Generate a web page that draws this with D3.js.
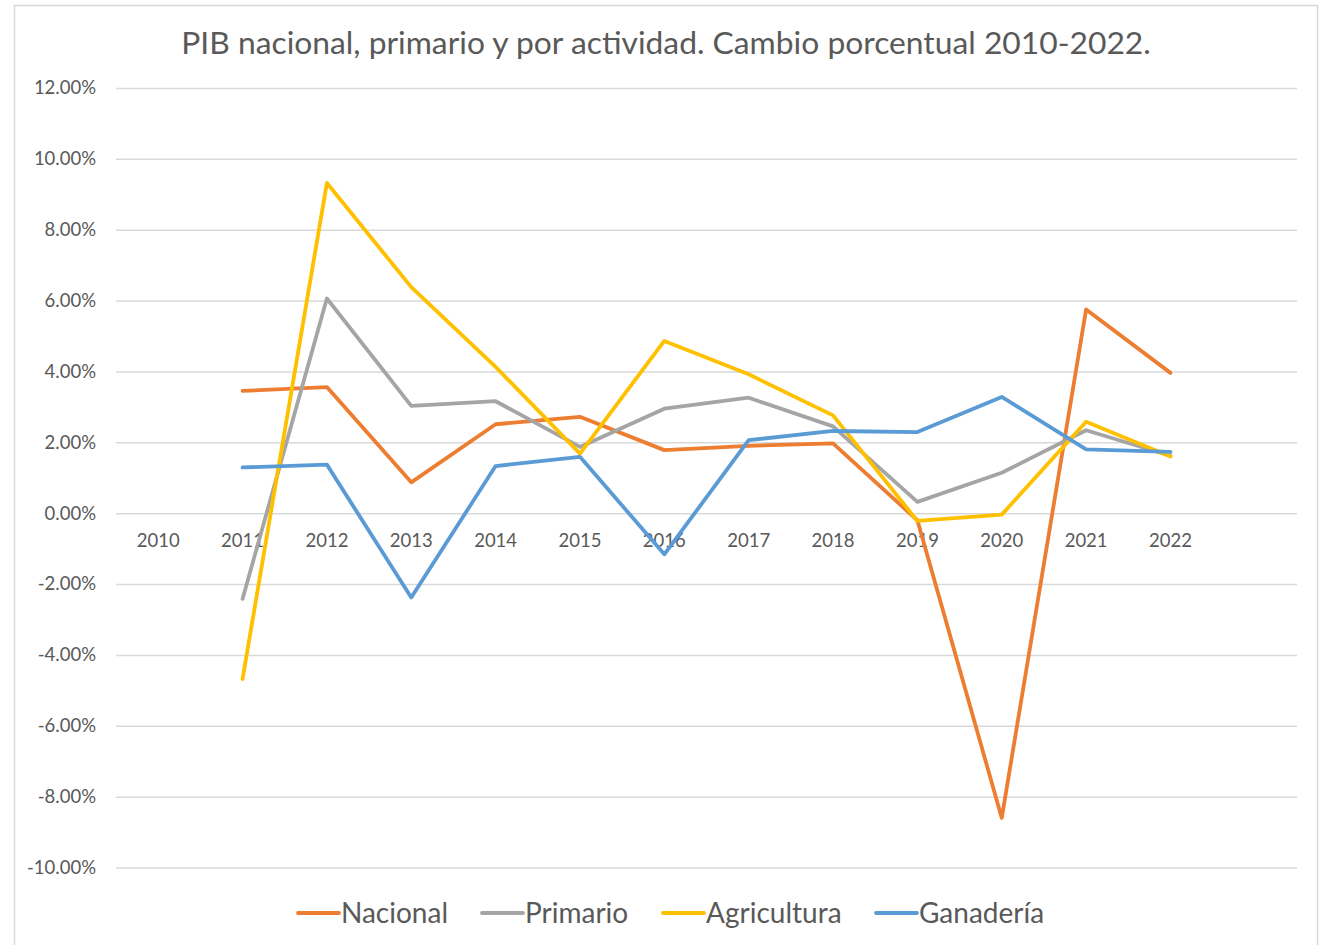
<!DOCTYPE html>
<html>
<head>
<meta charset="utf-8">
<script src="https://cdn.jsdelivr.net/npm/d3@7"></script>
<style>
  html, body { margin: 0; padding: 0; background: #fff; }
  svg { display: block; font-family: Lato, "Open Sans", sans-serif; }
</style>
</head>
<body>
<svg id="chart" width="1324" height="945"></svg>
<script>
const title = "PIB nacional, primario y por actividad. Cambio porcentual 2010-2022.";
const years = ["2010","2011","2012","2013","2014","2015","2016","2017","2018","2019","2020","2021","2022"];
const yTicks = [-10, -8, -6, -4, -2, 0, 2, 4, 6, 8, 10, 12];
const seriesNames = ["Nacional", "Primario", "Agricultura", "Ganadería"];
const seriesColors = ["#ED7D31", "#A5A5A5", "#FFC000", "#5B9BD5"];
const nacional    = [null, 3.45, 3.56, 0.87, 2.51, 2.72, 1.78, 1.90, 1.97, -0.20, -8.60, 5.75, 3.96];
const primario    = [null, -2.42, 6.06, 3.03, 3.16, 1.87, 2.95, 3.26, 2.45, 0.32, 1.14, 2.34, 1.62];
const agricultura = [null, -4.68, 9.32, 6.38, 4.13, 1.68, 4.86, 3.92, 2.76, -0.22, -0.04, 2.58, 1.60];
const ganaderia   = [null, 1.29, 1.37, -2.38, 1.33, 1.59, -1.16, 2.06, 2.32, 2.29, 3.28, 1.80, 1.73];
const seriesValues = [nacional, primario, agricultura, ganaderia];

const svg = d3.select("#chart");
const textColor = "#595959";
const fmt = d3.formatLocale({ decimal: ".", thousands: ",", grouping: [3], currency: ["", ""], minus: "-" }).format(".2f");

// chart frame
svg.append("rect").attr("x", 14.5).attr("y", 5.5).attr("width", 1303).attr("height", 960)
  .attr("fill", "#fff").attr("stroke", "#D9D9D9").attr("stroke-width", 1.5);

const plotLeft = 116, plotRight = 1297;
const bw = (plotRight - plotLeft) / (years.length + 1);
const x = d3.scaleBand().domain(years).range([plotLeft, plotLeft + years.length * bw]);
const xc = d => x(d) + x.bandwidth() / 2;
const y = d3.scaleLinear().domain([-10, 12]).range([867.5, 88]);

// title
svg.append("text").attr("x", 666).attr("y", 54).attr("text-anchor", "middle")
  .attr("font-size", 31.8).attr("fill", textColor).text(title);

// gridlines + y labels
const yAxis = d3.axisLeft(y).tickValues(yTicks).tickSize(-(plotRight - plotLeft))
  .tickPadding(20).tickFormat(d => fmt(d) + "%");
const gy = svg.append("g").attr("transform", `translate(${plotLeft},0)`).call(yAxis);
gy.select(".domain").remove();
gy.selectAll(".tick line").attr("stroke", "#D9D9D9").attr("stroke-width", 1.5);
gy.selectAll(".tick text").attr("fill", textColor).attr("font-size", 18.5)
  .attr("font-family", "Lato, sans-serif");

// x labels along the zero line
const xAxis = d3.axisBottom(x).tickSize(0).tickPadding(21);
const gx = svg.append("g").attr("transform", `translate(0,${y(0)})`).call(xAxis);
gx.select(".domain").remove();
gx.selectAll(".tick text").attr("fill", textColor).attr("font-size", 18.5)
  .attr("font-family", "Lato, sans-serif");

// lines
const line = d3.line().defined(d => d.v !== null).x(d => xc(d.year)).y(d => y(d.v));
seriesValues.forEach((vals, i) => {
  const data = years.map((yr, j) => ({ year: yr, v: vals[j] }));
  svg.append("path").datum(data).attr("d", line)
    .attr("fill", "none").attr("stroke", seriesColors[i]).attr("stroke-width", 3.8)
    .attr("stroke-linejoin", "round").attr("stroke-linecap", "round");
});

// legend
const legendX = [298, 482, 663, 876];
const lg = svg.append("g");
seriesNames.forEach((name, i) => {
  const g = lg.append("g").attr("transform", `translate(${legendX[i]},913)`);
  g.append("line").attr("x1", 0).attr("x2", 41).attr("y1", 0).attr("y2", 0)
    .attr("stroke", seriesColors[i]).attr("stroke-width", 3.8).attr("stroke-linecap", "round");
  g.append("text").attr("x", 43).attr("y", 0).attr("dy", "0.36em")
    .attr("font-size", 28).attr("fill", textColor).text(name);
});
</script>
</body>
</html>
